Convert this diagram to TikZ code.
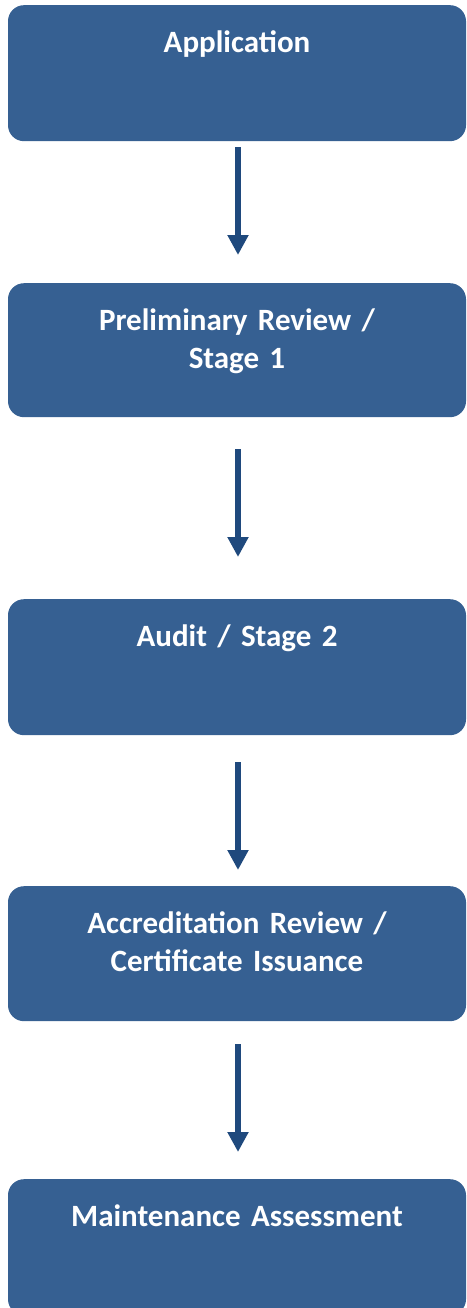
\documentclass[tikz,border=0pt]{standalone}
\usepackage{fontspec}
\setmainfont{Carlito}
\usetikzlibrary{arrows.meta}
\definecolor{boxblue}{RGB}{54,96,146}
\definecolor{arrowblue}{RGB}{31,73,125}

\begin{document}
\begin{tikzpicture}[x=1pt,y=1pt,
  stage/.style={fill=boxblue,rounded corners=16pt,anchor=north,inner sep=0pt,
    text width=458pt,align=center,text=white,
    font=\fontsize{31}{38}\selectfont\bfseries,
    text height=47pt,text depth=#1},
  stage/.default=89pt,
  flow/.style={draw=arrowblue,line width=6pt,-{Triangle[width=20pt,length=20pt]}}]
\useasboundingbox (0,0) rectangle (466,-1308);
            % Boxes
\node[stage] (app) at (237,-5) {Application};
\node[stage=87pt] (prelim) at (237,-283) {Preliminary Review /\\Stage 1};
\node[stage] (audit) at (237,-599) {Audit / Stage 2};
\node[stage=88pt] (accred) at (237,-886) {Accreditation Review /\\Certificate Issuance};
\node[stage] (maint) at (237,-1179) {Maintenance Assessment};
%Arrows
\draw[flow,shorten <=6pt,shorten >=28pt] ([xshift=1pt]app.south) -- ([xshift=1pt]prelim.north);
\draw[flow,shorten <=32pt,shorten >=42pt] ([xshift=1pt]prelim.south) -- ([xshift=1pt]audit.north);
\draw[flow,shorten <=27pt,shorten >=16pt] ([xshift=1pt]audit.south) -- ([xshift=1pt]accred.north);
\draw[flow,shorten <=23pt,shorten >=27pt] ([xshift=1pt]accred.south) -- ([xshift=1pt]maint.north);

          \end{tikzpicture}
\end{document}
